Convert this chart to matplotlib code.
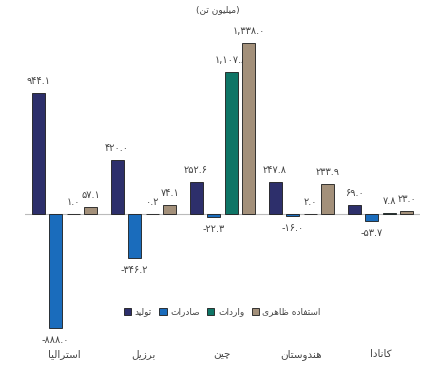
import numpy as np
import matplotlib
matplotlib.use("Agg")
import matplotlib.pyplot as plt

countries = ["استرالیا", "برزیل", "چین", "هندوستان", "کانادا"]
series_names = ["تولید", "صادرات", "واردات", "استفاده ظاهری"]
production = [944.1, 420.0, 252.6, 247.8, 69.0]
exports = [-888.0, -346.2, -22.3, -16.0, -53.7]
imports = [1.0, 0.2, 1107.8, 2.0, 7.8]
consumption = [57.1, 74.1, 1338.0, 233.9, 23.0]
unit_title = "میلیون تن"

colors = ["#2d2f6b", "#1a6cbc", "#0e7566", "#a3907a"]

# presentation forms: isolated, final, initial, medial
FORMS = {
    "ا": ("\uFE8D", "\uFE8E", None, None),
    "ب": ("\uFE8F", "\uFE90", "\uFE91", "\uFE92"),
    "ت": ("\uFE95", "\uFE96", "\uFE97", "\uFE98"),
    "د": ("\uFEA9", "\uFEAA", None, None),
    "ر": ("\uFEAD", "\uFEAE", None, None),
    "ز": ("\uFEAF", "\uFEB0", None, None),
    "س": ("\uFEB1", "\uFEB2", "\uFEB3", "\uFEB4"),
    "ص": ("\uFEB9", "\uFEBA", "\uFEBB", "\uFEBC"),
    "ظ": ("\uFEC5", "\uFEC6", "\uFEC7", "\uFEC8"),
    "ف": ("\uFED1", "\uFED2", "\uFED3", "\uFED4"),
    "ل": ("\uFEDD", "\uFEDE", "\uFEDF", "\uFEE0"),
    "م": ("\uFEE1", "\uFEE2", "\uFEE3", "\uFEE4"),
    "ن": ("\uFEE5", "\uFEE6", "\uFEE7", "\uFEE8"),
    "ه": ("\uFEE9", "\uFEEA", "\uFEEB", "\uFEEC"),
    "و": ("\uFEED", "\uFEEE", None, None),
    "ی": ("\uFBFC", "\uFBFD", "\uFBFE", "\uFBFF"),
    "چ": ("\uFB7A", "\uFB7B", "\uFB7C", "\uFB7D"),
    "ک": ("\uFB8E", "\uFB8F", "\uFB90", "\uFB91"),
}


def dual(c):
    return c in FORMS and FORMS[c][2] is not None


def rtl(text):
    out = []
    for i, c in enumerate(text):
        if c not in FORMS:
            out.append(c)
            continue
        prev = text[i - 1] if i > 0 else ""
        nxt = text[i + 1] if i + 1 < len(text) else ""
        join_prev = dual(prev)
        join_next = dual(c) and nxt in FORMS
        iso, fin, ini, med = FORMS[c]
        if join_prev and join_next:
            out.append(med)
        elif join_prev:
            out.append(fin)
        elif join_next:
            out.append(ini)
        else:
            out.append(iso)
    return "".join(out)[::-1]


FA_DIGITS = str.maketrans("0123456789", "۰۱۲۳۴۵۶۷۸۹")


def fa_num(v):
    return f"{v:,.1f}".translate(FA_DIGITS)


plt.rcParams["font.family"] = ["DejaVu Sans"]

fig = plt.figure(figsize=(4.31, 3.84), dpi=100)
ax = fig.add_axes([0.058, 1 - 345 / 384, 0.916, (345 - 30) / 384])

x = np.arange(len(countries))
width = 0.165
step = 0.222
all_series = [production, exports, imports, consumption]
for k, vals in enumerate(all_series):
    pos = x + (k - 1.5) * step
    bars = ax.bar(pos, vals, width, color=colors[k], edgecolor="#1a1a1a",
                  linewidth=0.6, label=rtl(series_names[k]), zorder=3)
    for b, v in zip(bars, vals):
        if v >= 0:
            ax.annotate(fa_num(v), (b.get_x() + b.get_width() / 2, v),
                        xytext=(0, 5), textcoords="offset points",
                        ha="center", va="bottom", fontsize=7, color="#444444")
        else:
            ax.annotate(fa_num(v), (b.get_x() + b.get_width() / 2, v),
                        xytext=(0, -5), textcoords="offset points",
                        ha="center", va="top", fontsize=7, color="#444444")

ax.axhline(0, color="#bbbbbb", linewidth=0.8, zorder=2)
ax.set_xlim(-0.5, 4.5)
ax.set_ylim(-1023, 1437)
ax.set_xticks(x)
ax.set_xticklabels([rtl(c) for c in countries], fontsize=7.5, color="#444444")
ax.tick_params(axis="x", length=0, pad=3)
ax.set_yticks([])
for s in ax.spines.values():
    s.set_visible(False)

leg = ax.legend(loc="center", bbox_to_anchor=(0.5, 0.105), ncol=4, frameon=False,
                fontsize=6.5, handlelength=0.8, handleheight=0.8,
                handletextpad=0.4, columnspacing=0.8)
for t in leg.get_texts():
    t.set_color("#444444")

fig.text(0.505, 1 - 10 / 384, "(" + rtl(unit_title) + ")", ha="center",
         va="center", fontsize=6.5, color="#444444")

fig.savefig("out.png", dpi=100)
